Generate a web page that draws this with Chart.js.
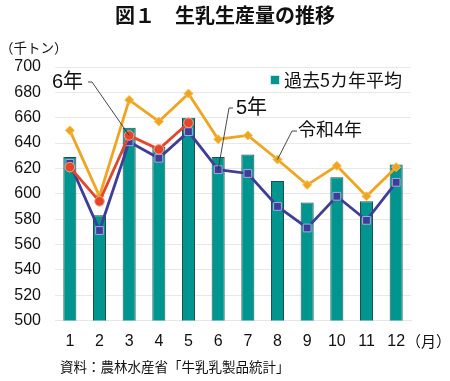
<!DOCTYPE html>
<html>
<head>
<meta charset="utf-8">
<script src="https://cdn.jsdelivr.net/npm/chart.js@4/dist/chart.umd.min.js"></script>
<style>
  html, body { margin: 0; padding: 0; background: #fff; }
  #wrap { width: 450px; height: 381px; position: relative; }
</style>
</head>
<body>
<div id="wrap"><canvas id="c" width="450" height="381"></canvas></div>
<script>
const months = ['1','2','3','4','5','6','7','8','9','10','11','12'];
const avg5yr = [629, 583, 652, 637, 660, 629, 631, 610, 593, 613, 594, 623];
const r4 = [650, 598, 674, 657, 679, 643, 646, 627, 607, 622, 598, 621];
const r5 = [624, 571, 641, 628, 649, 619, 616, 590, 573, 598, 579, 609];
const r6 = [621, 594, 646, 635, 656];
const yTicks = [500, 520, 540, 560, 580, 600, 620, 640, 660, 680, 700];

const title = '図１　生乳生産量の推移';
const unitLabel = '（千トン）';
const monthUnit = '（月）';
const source = '資料：農林水産省「牛乳乳製品統計」';
const legendLabel = '過去5カ年平均';
const labelR6 = '6年', labelR5 = '5年', labelR4 = '令和4年';

const FONT = '"Liberation Sans", Arial, "Noto Sans CJK JP", sans-serif';
const JFONT = '"Noto Sans CJK JP", "Liberation Sans", sans-serif';

const decor = {
  id: 'decor',
  afterDraw(chart) {
    const ctx = chart.ctx;
    ctx.save();
    ctx.fillStyle = '#111';
    ctx.textBaseline = 'middle';
    // title
    ctx.font = 'bold 20px ' + JFONT;
    ctx.textAlign = 'center';
    ctx.fillText(title, 225, 15);
    // unit
    ctx.font = '13.5px ' + JFONT;
    ctx.textAlign = 'left';
    ctx.fillText(unitLabel, 0, 48);
    // month unit
    ctx.font = '15px ' + JFONT;
    ctx.fillText(monthUnit, 406, 341);
    // source
    ctx.font = '13.5px ' + JFONT;
    ctx.fillText(source, 60, 367);
    // legend
    ctx.fillStyle = '#00968F';
    ctx.fillRect(271, 76, 8, 8);
    ctx.strokeStyle = '#cfe8e8';
    ctx.lineWidth = 1;
    ctx.strokeRect(270.5, 75.5, 9, 9);
    ctx.fillStyle = '#111';
    ctx.font = '18px ' + JFONT;
    ctx.fillText(legendLabel, 284, 80);

    // callouts
    const pt = (ds, i) => chart.getDatasetMeta(ds).data[i];
    ctx.strokeStyle = '#333';
    ctx.lineWidth = 0.9;
    const callout = (text, tx, ty, size, hx1, hx2, p) => {
      ctx.font = size + 'px ' + FONT;
      ctx.fillStyle = '#111';
      ctx.textAlign = 'left';
      ctx.fillText(text, tx, ty);
      ctx.beginPath();
      ctx.moveTo(hx1, ty);
      ctx.lineTo(hx2, ty);
      ctx.lineTo(p.x, p.y);
      ctx.stroke();
    };
    callout(labelR6, 52, 82, 20, 88, 92, pt(3, 2));
    callout(labelR5, 236, 108, 20, 233, 229, pt(2, 5));
    callout(labelR4, 298, 131, 18, 297, 292, pt(1, 7));
    ctx.restore();
  }
};

new Chart(document.getElementById('c'), {
  data: {
    labels: months,
    datasets: [
      {
        type: 'bar', label: legendLabel, data: avg5yr, order: 3,
        backgroundColor: '#00968F', borderColor: '#1d4f4d', borderWidth: 1,
        barPercentage: 0.44, categoryPercentage: 1
      },
      {
        type: 'line', label: labelR4, data: r4, order: 2,
        borderColor: '#EFA51F', borderWidth: 2.8, pointStyle: 'rectRot',
        pointRadius: 4.5, pointBackgroundColor: '#EFA51F', pointBorderColor: '#F6C050', pointBorderWidth: 1,
        tension: 0
      },
      {
        type: 'line', label: labelR5, data: r5, order: 1,
        borderColor: '#3E3E98', borderWidth: 2.8, pointStyle: 'rect',
        pointRadius: 5.5, pointBackgroundColor: '#3E3E98', pointBorderColor: '#A8A8E0', pointBorderWidth: 1,
        tension: 0
      },
      {
        type: 'line', label: labelR6, data: r6, order: 0,
        borderColor: '#E5462A', borderWidth: 2.8, pointStyle: 'circle',
        pointRadius: 4.8, pointBackgroundColor: '#E5462A', pointBorderColor: '#F3A58F', pointBorderWidth: 1,
        tension: 0
      }
    ]
  },
  options: {
    responsive: false,
    animation: false,
    layout: { padding: { top: 67, right: 39, left: 0, bottom: 0 } },
    plugins: { legend: { display: false }, tooltip: { enabled: false }, title: { display: false } },
    scales: {
      x: {
        grid: { display: false, drawTicks: false },
        border: { display: true, color: '#e6e6e6', width: 1 },
        ticks: { font: { family: FONT, size: 16 }, color: '#111', padding: 11, maxRotation: 0 },
        afterFit(s) { s.height = 60.5; }
      },
      y: {
        min: 500, max: 700,
        afterBuildTicks(s) { s.ticks = yTicks.map(v => ({ value: v })); },
        grid: { color: '#e8e8e8', drawTicks: false, lineWidth: 1 },
        border: { display: false },
        ticks: { font: { family: FONT, size: 16 }, color: '#111', padding: 14 },
        afterFit(s) { s.width = 55; }
      }
    }
  },
  plugins: [decor]
});
</script>
</body>
</html>
